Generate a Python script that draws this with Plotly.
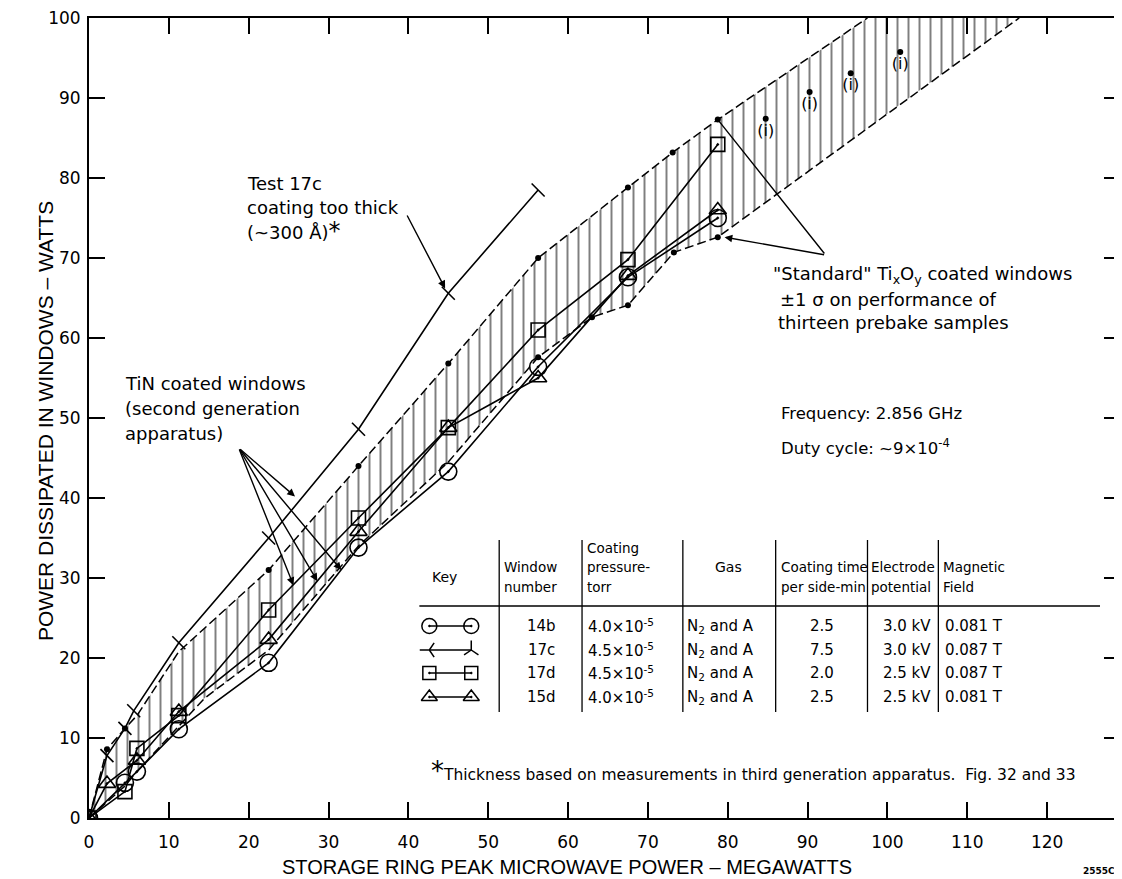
import plotly.graph_objects as go

# ---------------- data ----------------
x_14b = [0, 4.5, 6.0, 11.25, 22.5, 33.75, 45.0, 56.25, 67.5, 78.75]
y_14b = [0, 4.4, 5.8, 11.1, 19.4, 33.8, 43.3, 56.4, 67.6, 75.0]

x_17c = [0, 2.25, 4.5, 5.6, 11.25, 22.5, 33.75, 45.0, 56.25]
y_17c = [0, 7.8, 11.2, 13.4, 21.9, 35.0, 48.6, 65.6, 78.5]

x_17d = [0, 4.5, 6.0, 11.25, 22.5, 33.75, 45.0, 56.25, 67.5, 78.75]
y_17d = [0, 3.3, 8.7, 12.8, 26.0, 37.5, 48.8, 61.0, 69.8, 84.2]

x_15d = [0, 2.25, 6.0, 11.25, 22.5, 33.75, 45.0, 56.25, 67.5, 78.75]
y_15d = [0, 4.3, 7.2, 13.3, 22.3, 35.8, 48.8, 55.0, 67.8, 76.0]

band_upper_x = [0, 2.25, 4.5, 6.0, 11.25, 22.5, 33.75, 45.0, 56.25, 67.5, 73.1, 78.75, 97.5]
band_upper_y = [0, 8.6, 11.2, 12.8, 20.8, 31.0, 44.0, 56.8, 70.0, 78.8, 83.2, 87.3, 100]
band_lower_x = [0, 4.5, 6.0, 11.25, 14.5, 22.5, 33.75, 45.0, 56.25, 63.0, 67.5, 73.25, 78.75, 116.5]
band_lower_y = [0, 4.0, 5.8, 11.4, 15.0, 21.0, 34.0, 44.5, 57.6, 62.6, 64.1, 70.7, 72.6, 100]

sigma_pts_x = [2.25, 4.5, 22.5, 33.75, 45.0, 56.25, 67.5, 73.1, 78.75, 56.25, 63.0, 67.5, 73.25, 78.75]
sigma_pts_y = [8.6, 11.2, 31.0, 44.0, 56.8, 70.0, 78.8, 83.2, 87.3, 57.6, 62.6, 64.1, 70.7, 72.6]

i_x = [84.75, 90.25, 95.4, 101.6]
i_y = [87.4, 90.75, 93.1, 95.75]

x_ticks = [0, 10, 20, 30, 40, 50, 60, 70, 80, 90, 100, 110, 120]
y_ticks = [0, 10, 20, 30, 40, 50, 60, 70, 80, 90, 100]

tbl_window = ["14b", "17c", "17d", "15d"]
tbl_pressure = ["4.0×10<sup>-5</sup>", "4.5×10<sup>-5</sup>", "4.5×10<sup>-5</sup>", "4.0×10<sup>-5</sup>"]
tbl_gas = ["N<sub>2</sub> and A"] * 4
tbl_time = ["2.5", "7.5", "2.0", "2.5"]
tbl_potential = ["3.0 kV", "3.0 kV", "2.5 kV", "2.5 kV"]
tbl_field = ["0.081 T", "0.087 T", "0.087 T", "0.081 T"]

# ---------------- layout helpers (page pixel -> data / paper coords) ----------------
PAGE_OFF = 8                 # default body margin of the html page
PLOT_L, PLOT_R, PLOT_T, PLOT_B = 89, 1122, 18, 818   # plot area in page pixels
PX_PER_UNIT = 8.0
FIG_W = 1122 - PAGE_OFF
FIG_H = 879 - PAGE_OFF


def dx(px):
    return (px - PLOT_L) / PX_PER_UNIT


def dy(py):
    return (PLOT_B - py) / PX_PER_UNIT


def paper_x(px):
    return (px - PLOT_L) / (PLOT_R - PLOT_L)


def paper_y(py):
    return (PLOT_B - py) / (PLOT_B - PLOT_T)


FONT = "DejaVu Sans"
BLK = "black"

fig = go.Figure()

# hatched ±1 sigma band
fig.add_trace(go.Scatter(
    x=band_upper_x + band_lower_x[::-1],
    y=band_upper_y + band_lower_y[::-1],
    mode="lines", fill="toself", line=dict(width=0, color="rgba(0,0,0,0)"),
    fillcolor="white",
    fillpattern=dict(shape="|", size=11, solidity=0.18, fgcolor=BLK, bgcolor="white"),
    hoverinfo="skip", showlegend=False))
for bx, by in ((band_upper_x, band_upper_y), (band_lower_x, band_lower_y)):
    fig.add_trace(go.Scatter(x=bx, y=by, mode="lines",
                             line=dict(color=BLK, width=1.5, dash="9px,4px"),
                             showlegend=False, hoverinfo="skip"))
fig.add_trace(go.Scatter(x=sigma_pts_x, y=sigma_pts_y, mode="markers",
                         marker=dict(symbol="circle", size=6, color=BLK),
                         showlegend=False))
fig.add_trace(go.Scatter(x=i_x, y=i_y, mode="markers+text", text=["(i)"] * len(i_x),
                         textposition="bottom center",
                         textfont=dict(family=FONT, size=16, color=BLK),
                         marker=dict(symbol="circle", size=6, color=BLK),
                         showlegend=False))

# data series
series = [
    (x_17c, y_17c, "line-nw-open", 13),
    (x_17d, y_17d, "square-open-dot", 14),
    (x_15d, y_15d, "triangle-up-open-dot", 15),
    (x_14b, y_14b, "circle-open-dot", 17),
]
for sx, sy, sym, sz in series:
    fig.add_trace(go.Scatter(
        x=sx, y=sy, mode="lines+markers",
        line=dict(color=BLK, width=1.6),
        marker=dict(symbol=sym, size=sz, color=BLK, line=dict(color=BLK, width=1.6)),
        showlegend=False))

# ---------------- table ----------------
row_py = [626, 650, 673, 697]
key_syms = [("circle-open-dot", "circle-open-dot", 15),
            ("y-left-open", "y-up-open", 12),
            ("square-open-dot", "square-open-dot", 13),
            ("triangle-up-open-dot", "triangle-up-open-dot", 14)]
for py, (s1, s2, sz) in zip(row_py, key_syms):
    fig.add_trace(go.Scatter(
        x=[dx(430), dx(472)], y=[dy(py), dy(py)], mode="lines+markers",
        line=dict(color=BLK, width=1.5),
        marker=dict(symbol=[s1, s2], size=sz, color=BLK, line=dict(color=BLK, width=1.5)),
        showlegend=False, hoverinfo="skip"))

shapes = []
for vx in (500, 583, 684, 777, 869, 940):
    shapes.append(dict(type="line", xref="x", yref="y", x0=dx(vx), x1=dx(vx),
                       y0=dy(540), y1=dy(712), line=dict(color=BLK, width=1.3)))
shapes.append(dict(type="line", xref="x", yref="y", x0=dx(420), x1=dx(1102),
                   y0=dy(606), y1=dy(606), line=dict(color=BLK, width=1.3)))

ann = []


def txt(px, py, s, size=16, anchor="left", **kw):
    ann.append(dict(x=dx(px), y=dy(py), xref="x", yref="y", text=s, showarrow=False,
                    xanchor=anchor, yanchor="middle",
                    font=dict(family=FONT, size=size, color=BLK), **kw))


TS = 13.5
# header
txt(445, 577, "Key", 14, "center")
txt(503, 567, "Window", TS)
txt(503, 587, "number", TS)
txt(586, 548, "Coating", TS)
txt(586, 567, "pressure-", TS)
txt(586, 587, "torr", TS)
txt(730, 567, "Gas", 14, "center")
txt(780, 567, "Coating time", TS)
txt(780, 587, "per side-min", TS)
txt(871, 567, "Electrode", TS)
txt(871, 587, "potential", TS)
txt(943, 567, "Magnetic", TS)
txt(943, 587, "Field", TS)
# rows
for i, py in enumerate(row_py):
    txt(542, py, tbl_window[i], 15, "center")
    txt(587, py, tbl_pressure[i], 15)
    txt(686, py, tbl_gas[i], 15)
    txt(823, py, tbl_time[i], 15, "center")
    txt(935, py, tbl_potential[i], 15, "right")
    txt(945, py, tbl_field[i], 15)

# footnote
txt(430, 771, "<span style='font-size:26px'>*</span>Thickness based on measurements in third generation apparatus.  Fig. 32 and 33", 15.5)

# text blocks
AS = 18
txt(245, 183, "Test 17c", AS)
txt(245, 207, "coating too thick", AS)
txt(245, 231, "(~300 Å)<span style='font-size:24px'>*</span>", AS)
txt(123, 383, "TiN coated windows", AS)
txt(123, 408, "(second generation", AS)
txt(123, 433, "apparatus)", AS)
txt(772, 275, "\"Standard\" Ti<sub>x</sub>O<sub>y</sub> coated windows", AS)
txt(779, 299, "±1 σ on performance of", AS)
txt(777, 322, "thirteen prebake samples", AS)
txt(780, 413, "Frequency: 2.856 GHz", 16.5)
txt(780, 447, "Duty cycle: ~9×10<sup>-4</sup>", 16.5)


def arrow(x0, y0, x1, y1, head=2):
    ann.append(dict(x=x1, y=y1, ax=x0, ay=y0, xref="x", yref="y", axref="x", ayref="y",
                    text="", showarrow=True, arrowhead=head, arrowsize=1.1,
                    arrowwidth=1.4, arrowcolor=BLK, standoff=0, startstandoff=0))


arrow(dx(407), dy(214), 44.6, 66.2)
o = (dx(239), dy(448))
arrow(o[0], o[1], 25.8, 40.2)
arrow(o[0], o[1], 25.6, 29.1)
arrow(o[0], o[1], 28.6, 29.6)
arrow(o[0], o[1], 31.6, 31.0)
ap = (dx(827), dy(255))
arrow(ap[0], ap[1], 78.75, 87.3, head=0)
arrow(ap[0], ap[1], 79.6, 72.6)

# axis titles & tag
ann.append(dict(x=paper_x(46), y=paper_y(421), xref="paper", yref="paper", textangle=-90,
                xanchor="center", yanchor="middle",
                text="POWER DISSIPATED IN WINDOWS – WATTS", showarrow=False,
                font=dict(family="Liberation Sans", size=21, color=BLK)))
ann.append(dict(x=paper_x(568), y=paper_y(867), xref="paper", yref="paper",
                xanchor="center", yanchor="middle",
                text="STORAGE RING PEAK MICROWAVE POWER – MEGAWATTS", showarrow=False,
                font=dict(family="Liberation Sans", size=20, color=BLK)))
ann.append(dict(x=paper_x(1083), y=paper_y(871), xref="paper", yref="paper",
                xanchor="left", yanchor="middle", text="<b>2555C2</b>", showarrow=False,
                font=dict(family=FONT, size=9, color=BLK)))

axis_common = dict(showgrid=False, zeroline=False, showline=True, linewidth=2, linecolor=BLK,
                   mirror="ticks", ticks="inside", ticklen=16, tickwidth=1.6, tickcolor=BLK,
                   ticklabeloverflow="allow",
                   tickfont=dict(family=FONT, size=17, color=BLK))
fig.update_layout(
    width=FIG_W, height=FIG_H,
    margin=dict(l=PLOT_L - PAGE_OFF, r=0, t=PLOT_T - PAGE_OFF,
                b=FIG_H - (PLOT_B - PAGE_OFF)),
    paper_bgcolor="white", plot_bgcolor="white",
    showlegend=False,
    xaxis=dict(range=[0, (PLOT_R - PLOT_L) / PX_PER_UNIT], tickvals=x_ticks,
               ticklabelstandoff=8, **axis_common),
    yaxis=dict(range=[0, 100], tickvals=y_ticks, ticklabelstandoff=3, **axis_common),
    shapes=shapes, annotations=ann,
)

fig.write_html("out.html")
